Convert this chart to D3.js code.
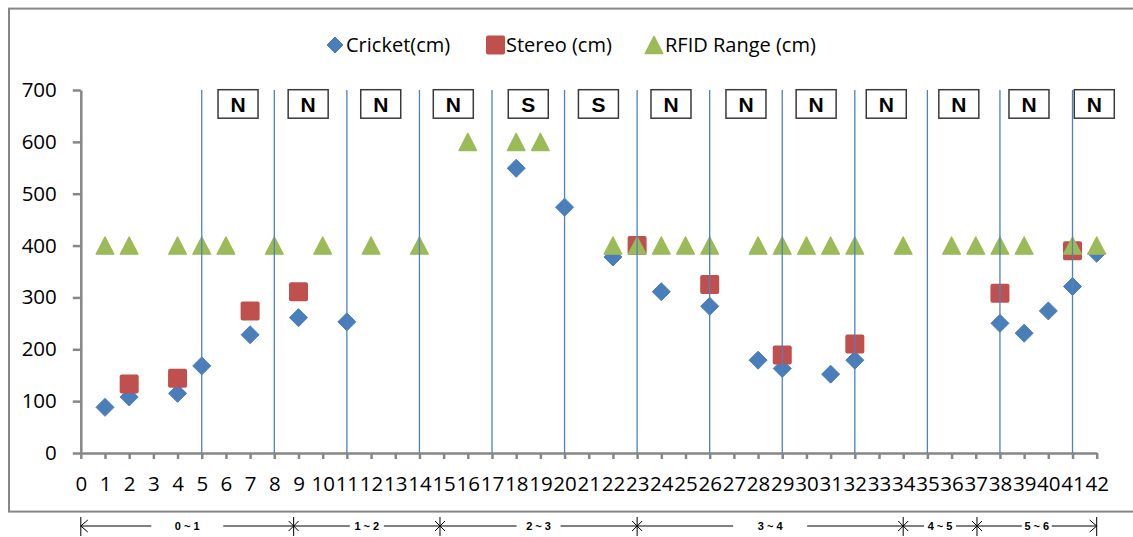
<!DOCTYPE html>
<html>
<head>
<meta charset="utf-8">
<script src="https://cdn.jsdelivr.net/npm/d3@7"></script>
<style>
  html, body { margin: 0; padding: 0; background: #fff; }
  svg { display: block; }
</style>
</head>
<body>
<svg id="chart" width="1133" height="537"></svg>
<script>
// ---- data ----
const xTickValues = d3.range(0, 43);
const yTickValues = [0, 100, 200, 300, 400, 500, 600, 700];

const cricketX = [1, 2, 4, 5, 7, 9, 11, 18, 20, 22, 24, 26, 28, 29, 31, 32, 38, 39, 40, 41, 42];
const cricketY = [88, 108, 115, 168, 228, 261, 253, 549, 474, 378, 311, 283, 179, 163, 152, 179, 250, 231, 274, 321, 385];

const stereoX = [2, 4, 7, 9, 23, 26, 29, 32, 38, 41];
const stereoY = [133, 144, 274, 311, 400, 325, 189, 210, 308, 390];

const rfidX = [1, 2, 4, 5, 6, 8, 10, 12, 14, 16, 18, 19, 22, 23, 24, 25, 26, 28, 29, 30, 31, 32, 34, 36, 37, 38, 39, 41, 42];
const rfidY = [400, 400, 400, 400, 400, 400, 400, 400, 400, 600, 600, 600, 400, 400, 400, 400, 400, 400, 400, 400, 400, 400, 400, 400, 400, 400, 400, 400, 400];

// zone separators and the N / S tag of each zone
const dividerX = [5, 8, 11, 14, 17, 20, 23, 26, 29, 32, 35, 38, 41];
const zoneX = [6.5, 9.4, 12.4, 15.4, 18.5, 21.4, 24.4, 27.5, 30.4, 33.3, 36.3, 39.2, 41.9];
const zoneLabels = ["N", "N", "N", "N", "S", "S", "N", "N", "N", "N", "N", "N", "N"];

// stage ranges drawn under the axis
const stageBounds = [0, 8.8, 14.85, 23, 34, 37.05, 42];
const stageLabels = ["0 ~ 1", "1 ~ 2", "2 ~ 3", "3 ~ 4", "4 ~ 5", "5 ~ 6"];
const stageGaps = [36, 17, 22, 37, 16, 15];

const seriesNames = ["Cricket(cm)", "Stereo (cm)", "RFID Range (cm)"];
const colors = { cricket: "#4a7ebb", stereo: "#c0504d", rfid: "#9bbb59" };

// ---- layout ----
const svg = d3.select("#chart");
const x = d3.scaleLinear().domain([0, 42]).range([80.8, 1096.7]);
const y = d3.scaleLinear().domain([0, 700]).range([453, 90]);
const axisColor = "#878787";
const font = "'Open Sans', 'Liberation Sans', sans-serif";

// outer frame
svg.append("rect")
  .attr("x", 9).attr("y", 8.6)
  .attr("width", 1140).attr("height", 503)
  .attr("fill", "none").attr("stroke", axisColor).attr("stroke-width", 2);

// axes
const yAxis = svg.append("g")
  .attr("transform", `translate(${x(0)},0)`)
  .call(d3.axisLeft(y).tickValues(yTickValues).tickSize(8).tickSizeOuter(0).tickPadding(16));
const xAxis = svg.append("g")
  .attr("transform", `translate(0,${y(0)})`)
  .call(d3.axisBottom(x).tickValues(xTickValues).tickFormat(d3.format("d")).tickSize(6).tickSizeOuter(0).tickPadding(17));

[yAxis, xAxis].forEach(g => {
  g.select(".domain").attr("stroke", axisColor).attr("stroke-width", 2.5);
  g.selectAll(".tick line").attr("stroke", axisColor).attr("stroke-width", 2.5);
  g.selectAll(".tick text")
    .attr("fill", "#000")
    .style("font-family", font)
    .style("font-size", "20.5px");
});

// marker shapes
const diamondPath = (cx, cy, r) => `M${cx},${cy - r}L${cx + r},${cy}L${cx},${cy + r}L${cx - r},${cy}Z`;
const trianglePath = (cx, cy, w, h) => `M${cx},${cy - h}L${cx + w},${cy + h}L${cx - w},${cy + h}Z`;

const marks = svg.append("g");

// Cricket series
marks.selectAll("path.cricket")
  .data(cricketX.map((v, i) => [v, cricketY[i]]))
  .join("path")
  .attr("class", "cricket")
  .attr("d", d => diamondPath(x(d[0]), y(d[1]), 9))
  .attr("fill", colors.cricket)
  .attr("stroke", colors.cricket).attr("stroke-width", 1).attr("stroke-linejoin", "round");

// Stereo series
marks.selectAll("rect.stereo")
  .data(stereoX.map((v, i) => [v, stereoY[i]]))
  .join("rect")
  .attr("class", "stereo")
  .attr("x", d => x(d[0]) - 9.5)
  .attr("y", d => y(d[1]) - 9.5)
  .attr("width", 19).attr("height", 19).attr("rx", 2)
  .attr("fill", colors.stereo);

// RFID series
marks.selectAll("path.rfid")
  .data(rfidX.map((v, i) => [v, rfidY[i]]))
  .join("path")
  .attr("class", "rfid")
  .attr("d", d => trianglePath(x(d[0]), y(d[1]), 8.8, 8.6))
  .attr("fill", colors.rfid)
  .attr("stroke", colors.rfid).attr("stroke-width", 1.4).attr("stroke-linejoin", "round");

// zone separators
svg.append("g").selectAll("line")
  .data(dividerX)
  .join("line")
  .attr("x1", d => x(d)).attr("x2", d => x(d))
  .attr("y1", y(700)).attr("y2", y(0))
  .attr("stroke", "#4f81bd").attr("stroke-width", 1.3);

// zone tags
const tags = svg.append("g").selectAll("g")
  .data(zoneX.map((v, i) => [v, zoneLabels[i]]))
  .join("g")
  .attr("transform", d => `translate(${x(d[0])},${y(700) + 14})`);
tags.append("rect")
  .attr("x", -20).attr("y", -14.3).attr("width", 40).attr("height", 28.5)
  .attr("fill", "#fff").attr("stroke", "#3a3a3a").attr("stroke-width", 1.5);
tags.append("text")
  .attr("text-anchor", "middle").attr("y", 7.5)
  .style("font-family", "'Liberation Sans', Arial, sans-serif")
  .style("font-weight", "bold").style("font-size", "21px")
  .text(d => d[1]);

// legend
const legendY = 45;
const legend = svg.append("g");
const legendItems = [
  { mx: 335, tx: 346, name: seriesNames[0], kind: "cricket" },
  { mx: 495.5, tx: 506, name: seriesNames[1], kind: "stereo" },
  { mx: 654, tx: 665, name: seriesNames[2], kind: "rfid" }
];
legendItems.forEach(it => {
  if (it.kind === "cricket") {
    legend.append("path").attr("d", diamondPath(it.mx, legendY, 8))
      .attr("fill", colors.cricket).attr("stroke", colors.cricket).attr("stroke-linejoin", "round");
  } else if (it.kind === "stereo") {
    legend.append("rect").attr("x", it.mx - 9.5).attr("y", legendY - 9.5)
      .attr("width", 19).attr("height", 19).attr("rx", 2).attr("fill", colors.stereo);
  } else {
    legend.append("path").attr("d", trianglePath(it.mx, legendY, 8.8, 8.6))
      .attr("fill", colors.rfid).attr("stroke", colors.rfid).attr("stroke-width", 1.4).attr("stroke-linejoin", "round");
  }
  legend.append("text").attr("x", it.tx).attr("y", legendY + 7)
    .style("font-family", font).style("font-size", "20px").attr("fill", "#000")
    .text(it.name);
});

// stage ranges under the axis
const stageY = 526;
const stages = svg.append("g").attr("stroke", "#000").attr("fill", "none");
stageLabels.forEach((lab, i) => {
  const a = x(stageBounds[i]), b = x(stageBounds[i + 1]);
  const c = (a + b) / 2, g = stageGaps[i];
  stages.append("line").attr("x1", a).attr("x2", c - g).attr("y1", stageY).attr("y2", stageY);
  stages.append("line").attr("x1", c + g).attr("x2", b).attr("y1", stageY).attr("y2", stageY);
  svg.append("text").attr("x", c).attr("y", stageY + 4)
    .attr("text-anchor", "middle")
    .style("font-family", "'Liberation Sans', Arial, sans-serif")
    .style("font-weight", "bold").style("font-size", "11px")
    .text(lab);
});
// end bars with arrow heads
const x0 = x(stageBounds[0]), x1 = x(stageBounds[stageBounds.length - 1]);
stages.append("line").attr("x1", x0).attr("x2", x0).attr("y1", stageY - 9).attr("y2", stageY + 10);
stages.append("path").attr("d", `M${x0 + 7},${stageY - 6}L${x0},${stageY}L${x0 + 7},${stageY + 6}`);
stages.append("line").attr("x1", x1).attr("x2", x1).attr("y1", stageY - 9).attr("y2", stageY + 10);
stages.append("path").attr("d", `M${x1 - 7},${stageY - 6}L${x1},${stageY}L${x1 - 7},${stageY + 6}`);
// star marks between stages
stageBounds.slice(1, -1).forEach(v => {
  const cx = x(v);
  stages.append("line").attr("x1", cx).attr("x2", cx).attr("y1", stageY - 9).attr("y2", stageY + 10);
  stages.append("line").attr("x1", cx - 5).attr("x2", cx + 5).attr("y1", stageY - 5).attr("y2", stageY + 5);
  stages.append("line").attr("x1", cx - 5).attr("x2", cx + 5).attr("y1", stageY + 5).attr("y2", stageY - 5);
});
</script>
</body>
</html>
